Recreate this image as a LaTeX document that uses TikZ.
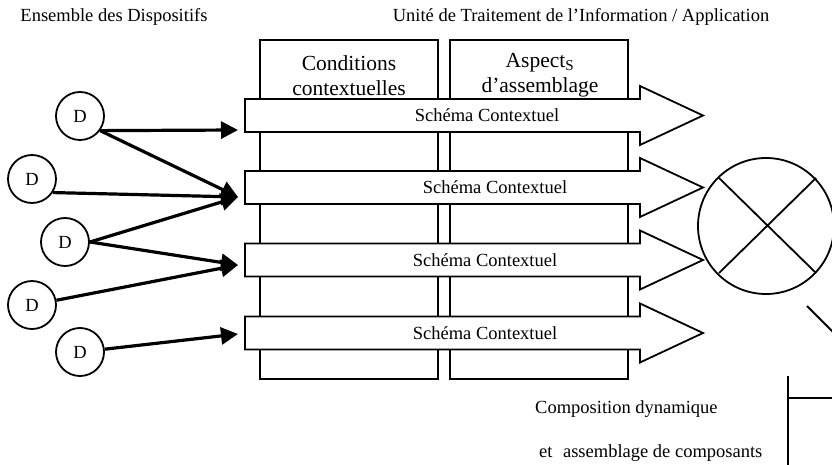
\documentclass[tikz,border=0pt]{standalone}
\usepackage{fontspec}
\setmainfont{Liberation Serif}
\usepackage{tikz}
\usetikzlibrary{arrows.meta}
\tikzset{
  colbox/.style={draw=black, line width=1.6pt, fill=white},
  band/.style={draw=black, line width=1.8pt, fill=white, line join=miter},
  dev/.style={circle, draw=black, line width=1.8pt, minimum size=48pt, inner sep=0pt, font=\fontsize{18.5}{22}\selectfont},
  feed/.style={draw=black, line width=3.2pt, -{Triangle[length=17pt,width=17pt]}},
  mixer/.style={draw=black, line width=1.8pt},
  lab/.style={inner sep=0pt, font=\fontsize{18.5}{22}\selectfont},
  colhead/.style={inner sep=0pt, align=center, font=\fontsize{21.5}{25}\selectfont}
}
\newcommand{\SchemaBand}[3]{%
  % #1 = centre line y, #2 = text x, #3 = label name
  \draw[band] (245,#1-16.5) -- (640,#1-16.5) -- (640,#1-29.5) -- (703,#1)
    -- (640,#1+29.5) -- (640,#1+16.5) -- (245,#1+16.5) -- cycle;
  \node[lab] (#3) at (#2,#1) {Schéma Contextuel};
}

\begin{document}
\begin{tikzpicture}[x=1pt, y=-1pt, line cap=butt]
  \useasboundingbox (0,0) rectangle (832,465);
  % titles
  \node[lab] (ens) at (114,17) {Ensemble des Dispositifs};
  \node[lab] (uti) at (581,17) {Unité de Traitement de l’Information / Application};
  % columns
  \draw[colbox] (260,40) rectangle (438,379);
  \draw[colbox] (450,40) rectangle (628,379);
  \draw[line width=2.6pt] (502,379) -- (511,379);
  \node[colhead] (cond) at (349,75.5) {Conditions\\contextuelles};
  \node[colhead] (asp) at (540,75.5) {Aspect\textsubscript{S}\\d’assemblage};
  % bands
  \SchemaBand{115.5}{487}{s1}
  \SchemaBand{187.5}{495}{s2}
  \SchemaBand{260}{485}{s3}
  \SchemaBand{333}{485}{s4}
  \coordinate (t1) at (238,130);
  \coordinate (t2) at (238,197);
  \coordinate (t3) at (238,265);
  \coordinate (t4) at (238,334);
  % devices
  \node[dev] (d1) at (80,116) {D};
  \node[dev] (d2) at (32,179) {D};
  \node[dev] (d3) at (65,242) {D};
  \node[dev] (d4) at (32,305) {D};
  \node[dev] (d5) at (80,352) {D};
  \draw[feed] (d1.-36) -- (t1);
  \draw[feed] (d1.-36) -- (t2);
  \draw[feed] (d2.-33) -- (t2);
  \draw[feed] (d3.east) -- (t2);
  \draw[feed] (d3.east) -- (t3);
  \draw[feed] (d4) -- (t3);
  \draw[feed] (d5) -- (t4);
  % composition
  \draw[mixer] (766,226) circle[radius=68];
  \draw[mixer] (719,178) -- (816,273);
  \draw[mixer] (816,178) -- (719,273);
  \draw[mixer] (807,306) -- (838,337);
  \draw[mixer] (788,376) -- (788,465);
  \draw[mixer] (788,398) -- (832,398);
  \node[lab, anchor=west] (comp) at (535,409) {Composition dynamique};
  \node[lab, anchor=west] (ass) at (539,453) {et\hspace{10.5pt}assemblage de composants};
\end{tikzpicture}
\end{document}
